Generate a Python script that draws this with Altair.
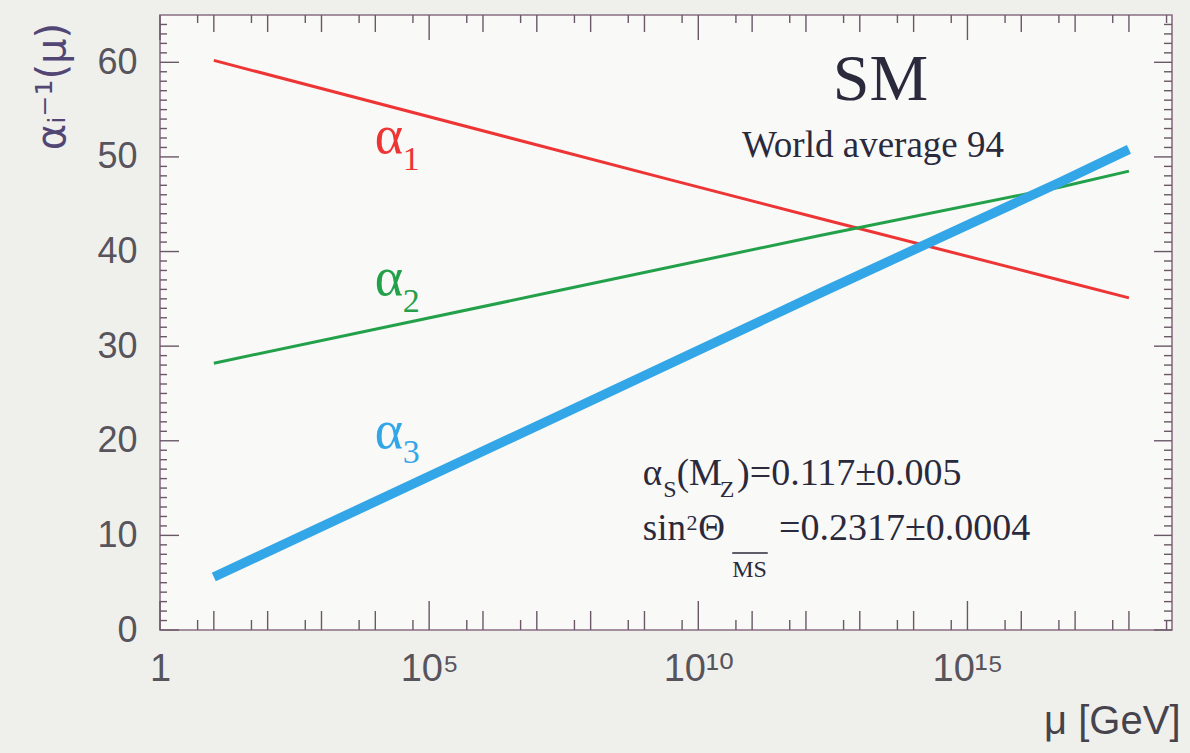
import altair as alt
import pandas as pd
import numpy as np

# ---------------- data (x = log10(mu/GeV)) ----------------
red_x = [1.0, 9.47, 12.26, 16.71, 18.0]
red_y = [60.2, 47.6, 43.5, 37.0, 35.1]
green_x = [1.0, 7.43, 12.26, 16.71, 18.0]
green_y = [28.2, 35.9, 41.7, 46.8, 48.5]
blue_x = [1.0, 7.43, 12.26, 16.71, 18.0]
blue_y = [5.6, 22.7, 35.6, 47.3, 50.8]

x_label_values = [0, 5, 10, 15]
x_tick_labels = ["1", "10\u2075", "10\u00b9\u2070", "10\u00b9\u2075"]
y_label_values = [0, 10, 20, 30, 40, 50, 60]

x_major = [0, 5, 10, 15]
x_decade = [k for k in range(1, 19) if k % 5]
x_half = [float(np.log10(5)) + k for k in range(0, 19)]
y_major = y_label_values
y_minor = [k for k in range(1, 65) if k % 10]

# annotations: text, x (log10 mu), y (alpha^-1), font size, colour
ann_text = ["SM", "World average 94",
            "\u03b1", "1", "\u03b1", "2", "\u03b1", "3",
            "\u03b1", "S", "(M", "Z", ")=0.117\u00b10.005",
            "sin", "2", "\u0398", "MS", "=0.2317\u00b10.0004"]
ann_x = [12.50, 10.81,
         3.99, 4.51, 3.99, 4.51, 3.99, 4.51,
         8.97, 9.35, 9.60, 10.40, 10.72,
         8.97, 9.78, 10.00, 10.63, 11.50]
ann_y = [56.0, 50.0,
         50.4, 48.6, 35.4, 33.6, 19.2, 17.65,
         15.33, 14.06, 15.33, 14.06, 15.33,
         9.51, 10.57, 9.51, 5.60, 9.51]
ann_size = [66, 37,
            54, 34, 54, 34, 54, 34,
            37, 24, 37, 24, 38,
            37, 22, 37, 24, 38]
RED, GREEN, BLUE, INK = "#ee3535", "#23a04a", "#33a6e8", "#2a2a3c"
ann_color = [INK, INK,
             RED, RED, GREEN, GREEN, BLUE, BLUE,
             INK, INK, INK, INK, INK,
             INK, INK, INK, INK, INK]
overline_x, overline_x2, overline_y = [10.63], [11.29], [8.14]

# ---------------- layout ----------------
W, H = 1012, 615
XMAX, YMAX = 18.8, 65
TICK = "#6a5868"

label_expr = " : ".join(
    f"datum.value == {v} ? '{t}'" for v, t in zip(x_label_values[:-1], x_tick_labels[:-1])
) + f" : '{x_tick_labels[-1]}'"

xaxis = alt.Axis(values=x_label_values, labelExpr=label_expr, ticks=False, domain=False,
                 grid=False, labelFont="Liberation Sans, DejaVu Sans", labelFontSize=38,
                 labelColor="#57545c", labelPadding=20, labelFlush=False,
                 title="\u03bc [GeV]", titleFont="Liberation Sans, DejaVu Sans",
                 titleFontSize=40, titleFontWeight="normal", titleColor="#46434c",
                 titleX=1020, titleY=103, titleAlign="right", titleBaseline="alphabetic")
yaxis = alt.Axis(values=y_label_values, ticks=False, domain=False, grid=False,
                 labelFont="Liberation Sans, DejaVu Sans", labelFontSize=36,
                 labelColor="#57545c", labelPadding=23,
                 title="\u03b1\u1d62\u207b\u00b9(\u03bc)", titleFont="DejaVu Sans",
                 titleFontSize=40, titleFontWeight="normal", titleColor="#524675",
                 titleAngle=270, titleX=-108, titleY=71, titleAlign="center",
                 titleBaseline="middle")

xs = alt.Scale(domain=[0, XMAX], nice=False, zero=False)
ys = alt.Scale(domain=[0, YMAX], nice=False, zero=False)


def X(f):
    return alt.X(f, type="quantitative", scale=xs, axis=xaxis)


def Y(f):
    return alt.Y(f, type="quantitative", scale=ys, axis=yaxis)


def line(xv, yv, color, width):
    df = pd.DataFrame({"x": xv, "y": yv})
    return alt.Chart(df).mark_line(color=color, strokeWidth=width, strokeCap="butt").encode(
        x=X("x"), y=Y("y"))


def xticks(vals, y0, y1):
    return alt.Chart(pd.DataFrame({"x": vals})).mark_rule(color=TICK, strokeWidth=1.4).encode(
        x=X("x"), y=alt.value(y0), y2=alt.value(y1))


def yticks(vals, x0, x1):
    return alt.Chart(pd.DataFrame({"y": vals})).mark_rule(color=TICK, strokeWidth=1.4).encode(
        y=Y("y"), x=alt.value(x0), x2=alt.value(x1))


ticks = [
    xticks(x_major, H, H - 29), xticks(x_decade, H, H - 19), xticks(x_half, H, H - 10),
    xticks(x_major, 0, 25), xticks(x_decade, 0, 17), xticks(x_half, 0, 8),
    yticks(y_major, 0, 19), yticks(y_minor, 0, 7),
    yticks(y_major, W, W - 18), yticks(y_minor, W, W - 8),
]

ann = pd.DataFrame({"x": ann_x, "y": ann_y, "t": ann_text, "s": ann_size, "c": ann_color})
texts = alt.Chart(ann).mark_text(font="Liberation Serif", align="left",
                                 baseline="alphabetic").encode(
    x=X("x"), y=Y("y"), text="t:N",
    size=alt.Size("s:Q", scale=None), color=alt.Color("c:N", scale=None))

ov = pd.DataFrame({"x": overline_x, "x2": overline_x2, "y": overline_y})
overline = alt.Chart(ov).mark_rule(color=INK, strokeWidth=1.6).encode(
    x=X("x"), x2="x2", y=Y("y"))

chart = alt.layer(
    *ticks,
    line(red_x, red_y, RED, 3),
    line(green_x, green_y, GREEN, 3),
    line(blue_x, blue_y, BLUE, 9.5),
    texts,
    overline,
).properties(
    width=W, height=H,
    autosize=alt.AutoSizeParams(type="none"),
    padding={"left": 160, "top": 15, "right": 1190 - 160 - W, "bottom": 753 - 15 - H},
    background="#eff0ec",
).configure_view(stroke="#8a6d84", strokeWidth=1.6, fill="#f9f9f7")

chart.save("out.html", embed_options={"renderer": "svg", "actions": False})
